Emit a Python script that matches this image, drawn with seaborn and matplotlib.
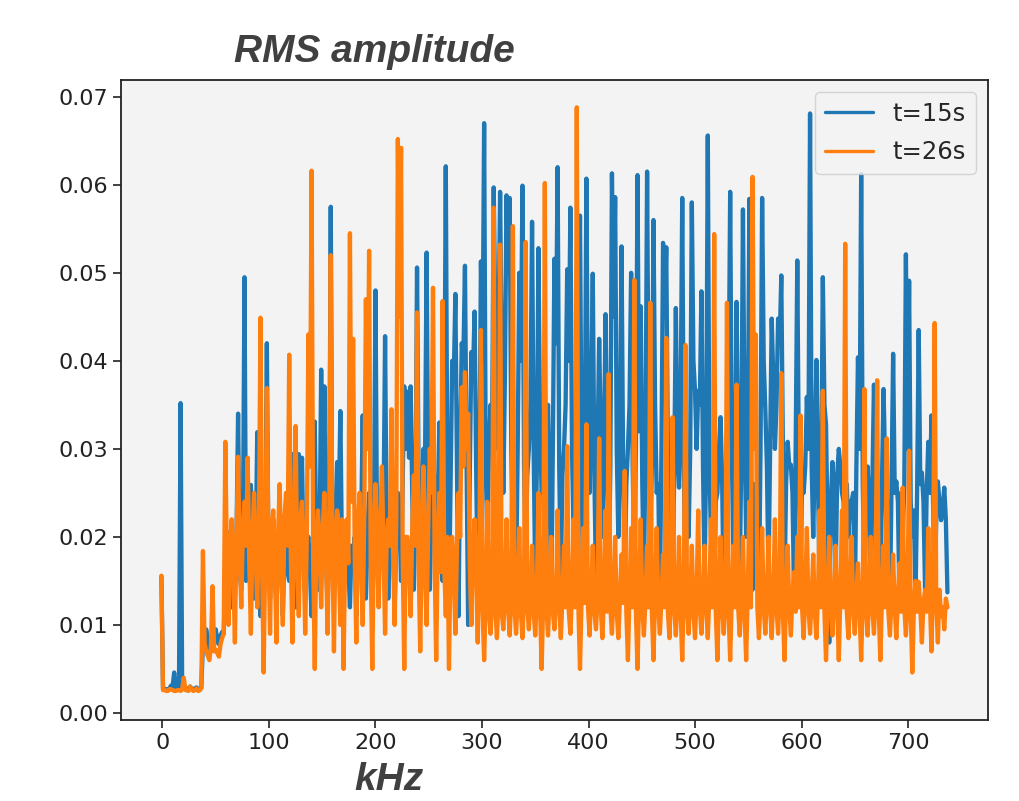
import numpy as np
import pandas as pd
import matplotlib
matplotlib.use("Agg")
import matplotlib.pyplot as plt
import seaborn as sns

# frequency grid (kHz), one sample every 1.5 kHz
freq_khz = np.arange(-1, 737.5, 1.5)

# RMS amplitude, t = 15 s
rms_t15 = [
    0.0155, 0.0028, 0.0027, 0.0027, 0.0026, 0.0028, 0.0031, 0.0030, 0.0046, 0.0029, 0.0027, 0.0027, 0.0352, 0.0027, 0.0028, 0.0027, 0.0026, 0.0028, 0.0030, 0.0027,
    0.0027, 0.0028, 0.0029, 0.0027, 0.0026, 0.0030, 0.0080, 0.0075, 0.0095, 0.0085, 0.0072, 0.0080, 0.0088, 0.0078, 0.0095, 0.0082, 0.0078, 0.0088, 0.0092, 0.0090,
    0.0150, 0.0160, 0.0205, 0.0170, 0.0120, 0.0150, 0.0180, 0.0200, 0.0340, 0.0160, 0.0140, 0.0190, 0.0495, 0.0150, 0.0160, 0.0210, 0.0259, 0.0170, 0.0130, 0.0180,
    0.0319, 0.0180, 0.0110, 0.0160, 0.0170, 0.0200, 0.0420, 0.0170, 0.0130, 0.0190, 0.0220, 0.0160, 0.0120, 0.0180, 0.0190, 0.0170, 0.0110, 0.0190, 0.0200, 0.0160,
    0.0150, 0.0190, 0.0294, 0.0170, 0.0120, 0.0200, 0.0294, 0.0220, 0.0290, 0.0170, 0.0130, 0.0190, 0.0200, 0.0160, 0.0110, 0.0200, 0.0331, 0.0180, 0.0140, 0.0190,
    0.0390, 0.0220, 0.0371, 0.0180, 0.0120, 0.0200, 0.0575, 0.0170, 0.0140, 0.0210, 0.0285, 0.0230, 0.0343, 0.0180, 0.0130, 0.0200, 0.0200, 0.0170, 0.0120, 0.0190,
    0.0180, 0.0200, 0.0110, 0.0170, 0.0220, 0.0210, 0.0338, 0.0190, 0.0130, 0.0200, 0.0250, 0.0180, 0.0120, 0.0210, 0.0480, 0.0190, 0.0150, 0.0200, 0.0240, 0.0220,
    0.0428, 0.0200, 0.0130, 0.0190, 0.0200, 0.0210, 0.0120, 0.0200, 0.0250, 0.0230, 0.0150, 0.0260, 0.0371, 0.0300, 0.0365, 0.0290, 0.0371, 0.0250, 0.0140, 0.0230,
    0.0506, 0.0260, 0.0180, 0.0240, 0.0300, 0.0280, 0.0523, 0.0250, 0.0140, 0.0230, 0.0260, 0.0270, 0.0120, 0.0240, 0.0330, 0.0260, 0.0150, 0.0280, 0.0621, 0.0250,
    0.0130, 0.0260, 0.0400, 0.0380, 0.0476, 0.0280, 0.0110, 0.0300, 0.0420, 0.0400, 0.0508, 0.0290, 0.0100, 0.0270, 0.0410, 0.0380, 0.0456, 0.0280, 0.0140, 0.0260,
    0.0513, 0.0400, 0.0670, 0.0280, 0.0200, 0.0300, 0.0350, 0.0320, 0.0597, 0.0450, 0.0300, 0.0420, 0.0592, 0.0400, 0.0250, 0.0380, 0.0588, 0.0500, 0.0585, 0.0300,
    0.0200, 0.0260, 0.0150, 0.0300, 0.0500, 0.0400, 0.0599, 0.0280, 0.0180, 0.0270, 0.0300, 0.0350, 0.0558, 0.0300, 0.0150, 0.0280, 0.0528, 0.0320, 0.0250, 0.0260,
    0.0160, 0.0280, 0.0350, 0.0260, 0.0120, 0.0300, 0.0516, 0.0420, 0.0620, 0.0280, 0.0150, 0.0270, 0.0300, 0.0350, 0.0504, 0.0400, 0.0574, 0.0300, 0.0200, 0.0260,
    0.0280, 0.0350, 0.0565, 0.0280, 0.0130, 0.0300, 0.0607, 0.0320, 0.0250, 0.0350, 0.0499, 0.0270, 0.0150, 0.0300, 0.0425, 0.0320, 0.0200, 0.0300, 0.0453, 0.0280,
    0.0150, 0.0280, 0.0613, 0.0450, 0.0586, 0.0300, 0.0200, 0.0300, 0.0530, 0.0280, 0.0140, 0.0260, 0.0300, 0.0350, 0.0500, 0.0280, 0.0160, 0.0300, 0.0611, 0.0320,
    0.0462, 0.0260, 0.0150, 0.0300, 0.0615, 0.0320, 0.0200, 0.0280, 0.0560, 0.0350, 0.0250, 0.0260, 0.0130, 0.0300, 0.0534, 0.0450, 0.0529, 0.0300, 0.0180, 0.0270,
    0.0130, 0.0280, 0.0460, 0.0300, 0.0256, 0.0350, 0.0585, 0.0280, 0.0140, 0.0260, 0.0200, 0.0300, 0.0580, 0.0400, 0.0366, 0.0300, 0.0366, 0.0350, 0.0479, 0.0280,
    0.0150, 0.0300, 0.0656, 0.0280, 0.0200, 0.0260, 0.0140, 0.0240, 0.0250, 0.0300, 0.0336, 0.0260, 0.0130, 0.0240, 0.0300, 0.0350, 0.0592, 0.0300, 0.0180, 0.0260,
    0.0467, 0.0280, 0.0150, 0.0300, 0.0572, 0.0320, 0.0200, 0.0280, 0.0584, 0.0300, 0.0140, 0.0260, 0.0250, 0.0240, 0.0130, 0.0300, 0.0585, 0.0400, 0.0345, 0.0280,
    0.0150, 0.0300, 0.0448, 0.0380, 0.0300, 0.0350, 0.0448, 0.0420, 0.0497, 0.0300, 0.0140, 0.0260, 0.0308, 0.0280, 0.0282, 0.0250, 0.0130, 0.0300, 0.0514, 0.0280,
    0.0150, 0.0260, 0.0250, 0.0280, 0.0359, 0.0300, 0.0681, 0.0280, 0.0200, 0.0300, 0.0401, 0.0260, 0.0140, 0.0280, 0.0495, 0.0350, 0.0328, 0.0200, 0.0080, 0.0240,
    0.0285, 0.0250, 0.0150, 0.0270, 0.0300, 0.0280, 0.0250, 0.0240, 0.0140, 0.0260, 0.0200, 0.0240, 0.0240, 0.0250, 0.0120, 0.0280, 0.0404, 0.0300, 0.0612, 0.0260,
    0.0150, 0.0250, 0.0280, 0.0240, 0.0130, 0.0260, 0.0373, 0.0280, 0.0200, 0.0240, 0.0140, 0.0260, 0.0368, 0.0280, 0.0180, 0.0240, 0.0120, 0.0260, 0.0408, 0.0250,
    0.0263, 0.0240, 0.0120, 0.0250, 0.0200, 0.0260, 0.0521, 0.0300, 0.0491, 0.0240, 0.0200, 0.0230, 0.0130, 0.0250, 0.0435, 0.0260, 0.0273, 0.0240, 0.0140, 0.0250,
    0.0308, 0.0250, 0.0338, 0.0240, 0.0130, 0.0220, 0.0263, 0.0240, 0.0219, 0.0230, 0.0256, 0.0220, 0.0137,
]

# RMS amplitude, t = 26 s
rms_t26 = [
    0.0156, 0.0026, 0.0026, 0.0025, 0.0025, 0.0027, 0.0027, 0.0026, 0.0025, 0.0025, 0.0026, 0.0026, 0.0025, 0.0027, 0.0040, 0.0026, 0.0026, 0.0025, 0.0030, 0.0027,
    0.0025, 0.0026, 0.0028, 0.0025, 0.0026, 0.0028, 0.0184, 0.0080, 0.0070, 0.0065, 0.0060, 0.0075, 0.0144, 0.0070, 0.0072, 0.0068, 0.0064, 0.0078, 0.0085, 0.0090,
    0.0308, 0.0170, 0.0100, 0.0190, 0.0220, 0.0160, 0.0080, 0.0200, 0.0291, 0.0180, 0.0120, 0.0210, 0.0240, 0.0190, 0.0290, 0.0170, 0.0090, 0.0200, 0.0250, 0.0180,
    0.0120, 0.0200, 0.0449, 0.0170, 0.0046, 0.0180, 0.0369, 0.0190, 0.0090, 0.0210, 0.0230, 0.0170, 0.0080, 0.0200, 0.0260, 0.0180, 0.0100, 0.0220, 0.0250, 0.0190,
    0.0407, 0.0180, 0.0080, 0.0210, 0.0326, 0.0170, 0.0110, 0.0220, 0.0240, 0.0180, 0.0090, 0.0200, 0.0430, 0.0280, 0.0616, 0.0170, 0.0050, 0.0200, 0.0230, 0.0190,
    0.0120, 0.0210, 0.0250, 0.0180, 0.0090, 0.0200, 0.0520, 0.0190, 0.0070, 0.0200, 0.0230, 0.0170, 0.0100, 0.0220, 0.0050, 0.0180, 0.0220, 0.0170, 0.0545, 0.0240,
    0.0425, 0.0180, 0.0080, 0.0210, 0.0250, 0.0190, 0.0100, 0.0230, 0.0470, 0.0300, 0.0525, 0.0170, 0.0050, 0.0200, 0.0260, 0.0180, 0.0120, 0.0220, 0.0280, 0.0190,
    0.0090, 0.0200, 0.0220, 0.0190, 0.0345, 0.0180, 0.0100, 0.0220, 0.0652, 0.0450, 0.0642, 0.0180, 0.0050, 0.0200, 0.0200, 0.0170, 0.0110, 0.0210, 0.0270, 0.0190,
    0.0455, 0.0170, 0.0070, 0.0200, 0.0280, 0.0160, 0.0100, 0.0210, 0.0300, 0.0250, 0.0483, 0.0170, 0.0060, 0.0190, 0.0250, 0.0160, 0.0468, 0.0170, 0.0110, 0.0200,
    0.0050, 0.0180, 0.0200, 0.0160, 0.0090, 0.0190, 0.0250, 0.0200, 0.0370, 0.0280, 0.0387, 0.0300, 0.0340, 0.0170, 0.0100, 0.0190, 0.0220, 0.0160, 0.0080, 0.0180,
    0.0435, 0.0120, 0.0060, 0.0130, 0.0240, 0.0115, 0.0090, 0.0125, 0.0574, 0.0120, 0.0085, 0.0130, 0.0532, 0.0115, 0.0095, 0.0135, 0.0220, 0.0120, 0.0088, 0.0130,
    0.0553, 0.0120, 0.0090, 0.0130, 0.0210, 0.0115, 0.0085, 0.0135, 0.0535, 0.0120, 0.0095, 0.0130, 0.0190, 0.0115, 0.0088, 0.0135, 0.0250, 0.0120, 0.0050, 0.0130,
    0.0602, 0.0120, 0.0088, 0.0135, 0.0200, 0.0115, 0.0095, 0.0130, 0.0230, 0.0120, 0.0085, 0.0130, 0.0190, 0.0120, 0.0303, 0.0115, 0.0090, 0.0135, 0.0220, 0.0120,
    0.0688, 0.0120, 0.0050, 0.0130, 0.0210, 0.0125, 0.0328, 0.0120, 0.0088, 0.0135, 0.0190, 0.0115, 0.0095, 0.0130, 0.0312, 0.0120, 0.0085, 0.0130, 0.0230, 0.0115,
    0.0385, 0.0120, 0.0090, 0.0135, 0.0200, 0.0115, 0.0085, 0.0130, 0.0180, 0.0125, 0.0275, 0.0115, 0.0060, 0.0135, 0.0210, 0.0120, 0.0492, 0.0115, 0.0050, 0.0130,
    0.0220, 0.0120, 0.0088, 0.0130, 0.0190, 0.0120, 0.0466, 0.0115, 0.0060, 0.0135, 0.0210, 0.0120, 0.0090, 0.0130, 0.0180, 0.0120, 0.0426, 0.0115, 0.0085, 0.0135,
    0.0336, 0.0120, 0.0088, 0.0130, 0.0200, 0.0115, 0.0060, 0.0135, 0.0418, 0.0120, 0.0090, 0.0130, 0.0190, 0.0115, 0.0085, 0.0135, 0.0230, 0.0120, 0.0090, 0.0130,
    0.0190, 0.0120, 0.0085, 0.0135, 0.0220, 0.0120, 0.0544, 0.0115, 0.0060, 0.0130, 0.0200, 0.0120, 0.0090, 0.0135, 0.0466, 0.0115, 0.0060, 0.0130, 0.0190, 0.0120,
    0.0373, 0.0120, 0.0088, 0.0130, 0.0200, 0.0115, 0.0060, 0.0135, 0.0240, 0.0120, 0.0609, 0.0300, 0.0430, 0.0120, 0.0085, 0.0130, 0.0210, 0.0120, 0.0090, 0.0135,
    0.0200, 0.0120, 0.0085, 0.0130, 0.0220, 0.0120, 0.0090, 0.0135, 0.0386, 0.0115, 0.0060, 0.0130, 0.0190, 0.0120, 0.0088, 0.0135, 0.0160, 0.0115, 0.0200, 0.0120,
    0.0338, 0.0120, 0.0085, 0.0135, 0.0210, 0.0120, 0.0090, 0.0130, 0.0180, 0.0115, 0.0085, 0.0135, 0.0230, 0.0120, 0.0366, 0.0115, 0.0060, 0.0130, 0.0200, 0.0120,
    0.0088, 0.0130, 0.0190, 0.0120, 0.0060, 0.0135, 0.0230, 0.0120, 0.0533, 0.0115, 0.0085, 0.0130, 0.0200, 0.0120, 0.0090, 0.0135, 0.0170, 0.0115, 0.0060, 0.0130,
    0.0368, 0.0120, 0.0088, 0.0130, 0.0200, 0.0120, 0.0090, 0.0135, 0.0378, 0.0115, 0.0060, 0.0130, 0.0190, 0.0120, 0.0312, 0.0115, 0.0088, 0.0130, 0.0180, 0.0120,
    0.0085, 0.0130, 0.0170, 0.0115, 0.0256, 0.0120, 0.0088, 0.0130, 0.0298, 0.0115, 0.0046, 0.0120, 0.0150, 0.0115, 0.0149, 0.0120, 0.0080, 0.0125, 0.0140, 0.0115,
    0.0210, 0.0130, 0.0070, 0.0150, 0.0443, 0.0125, 0.0080, 0.0140, 0.0110, 0.0120, 0.0095, 0.0130, 0.0120,
]

series_labels = ["t=15s", "t=26s"]
line_colors = ["#1f77b4", "#ff7f0e"]
y_ticks = [0.00, 0.01, 0.02, 0.03, 0.04, 0.05, 0.06, 0.07]
x_ticks = [0, 100, 200, 300, 400, 500, 600, 700]

df = pd.DataFrame({
    "kHz": np.concatenate([freq_khz, freq_khz]),
    "rms": rms_t15 + rms_t26,
    "series": [series_labels[0]] * len(rms_t15) + [series_labels[1]] * len(rms_t26),
})

sns.set_style("ticks", {"axes.facecolor": "#f3f3f3", "axes.edgecolor": "#222222"})
plt.rcParams["font.family"] = ["DejaVu Sans"]
plt.rcParams["path.simplify"] = False

fig = plt.figure(figsize=(10.19, 8.01), dpi=100)
ax = fig.add_axes([0.1192, 0.1011, 0.8503, 0.7990])

sns.lineplot(data=df, x="kHz", y="rms", hue="series", palette=line_colors,
             estimator=None, linewidth=3.1, ax=ax)

ax.set_xlim(-38.5, 775)
ax.set_ylim(-0.0008, 0.0719)
ax.set_xticks(x_ticks)
ax.set_yticks(y_ticks)
ax.set_yticklabels([f"{v:.2f}" for v in y_ticks])
ax.set_xlabel("")
ax.set_ylabel("")
ax.tick_params(labelsize=16, length=6, width=1.2, colors="#222222")
for s in ax.spines.values():
    s.set_linewidth(1.3)
    s.set_visible(True)

leg = ax.legend(loc="upper right", fontsize=17.5, framealpha=0.8, edgecolor="#cccccc",
                borderaxespad=0.5, labelspacing=0.6)
for h in leg.get_lines():
    h.set_linewidth(2.4)

fig.text(0.2296, 0.9226, "RMS amplitude", fontsize=28, fontweight="bold",
         fontstyle="italic", color="#404040", family=["Liberation Sans", "DejaVu Sans"],
         va="baseline", ha="left")
fig.text(0.3474, 0.014, "kHz", fontsize=28, fontweight="bold",
         fontstyle="italic", color="#404040", family=["Liberation Sans", "DejaVu Sans"],
         va="baseline", ha="left")

fig.savefig("out.png", dpi=100)
